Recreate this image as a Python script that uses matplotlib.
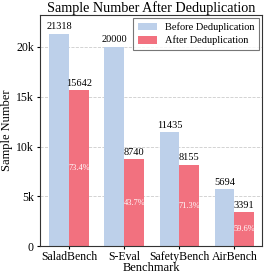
import numpy as np
import matplotlib
matplotlib.use("Agg")
import matplotlib.pyplot as plt
from matplotlib.ticker import FuncFormatter

plt.rcParams["font.family"] = ["Liberation Serif", "DejaVu Serif"]

benchmarks = ["SaladBench", "S-Eval", "SafetyBench", "AirBench"]
before = [21318, 20000, 11435, 5694]
after = [15642, 8740, 8155, 3391]
ratios = ["73.4%", "43.7%", "71.3%", "59.6%"]

fig, ax = plt.subplots(figsize=(2.67, 2.75), dpi=100)
x = np.arange(len(benchmarks))
w = 0.36

b1 = ax.bar(x - w / 2, before, w, color="#bdd0ea", label="Before Deduplication", zorder=2)
b2 = ax.bar(x + w / 2, after, w, color="#f2717f", label="After Deduplication", zorder=2)

for rect, v in zip(b1, before):
    ax.text(rect.get_x() + rect.get_width() / 2, v + 250, str(v),
            ha="center", va="bottom", fontsize=7.5)
for rect, v, r in zip(b2, after, ratios):
    ax.text(rect.get_x() + rect.get_width() / 2, v + 250, str(v),
            ha="center", va="bottom", fontsize=7.5)
    ax.text(rect.get_x() + rect.get_width() / 2, v / 2, r,
            ha="center", va="center", fontsize=6, color="white")

ax.set_ylim(0, 23200)
ax.set_xlim(-0.53, 3.5)
ax.set_xticks(x)
ax.set_xticklabels(benchmarks, fontsize=8.5)
ax.set_yticks([0, 5000, 10000, 15000, 20000])
ax.yaxis.set_major_formatter(FuncFormatter(lambda v, p: "0" if v == 0 else f"{int(v / 1000)}k"))
ax.tick_params(axis="y", labelsize=8.5, length=2.5, pad=2)
ax.tick_params(axis="x", length=2, pad=1.5)
ax.grid(axis="y", linestyle="--", color="#cccccc", linewidth=0.6, zorder=0)
ax.set_axisbelow(True)

ax.set_xlabel("Benchmark", fontsize=9)
ax.xaxis.set_label_coords(0.5, -0.068)
ax.set_ylabel("Sample Number", fontsize=9, labelpad=2)
ax.set_title("Sample Number After Deduplication", fontsize=10.2, pad=1)

leg = ax.legend(loc="upper right", fontsize=7.5, frameon=True, fancybox=False,
                handlelength=1.9, handleheight=0.8, handletextpad=0.75,
                borderpad=0.4, labelspacing=0.35, borderaxespad=0.3)
leg.get_frame().set_edgecolor("#555555")
leg.get_frame().set_linewidth(0.8)

for s in ax.spines.values():
    s.set_linewidth(0.8)
    s.set_color("#333333")

fig.subplots_adjust(left=0.15, right=0.981, top=0.945, bottom=0.105)
fig.savefig("out.png", dpi=100)
